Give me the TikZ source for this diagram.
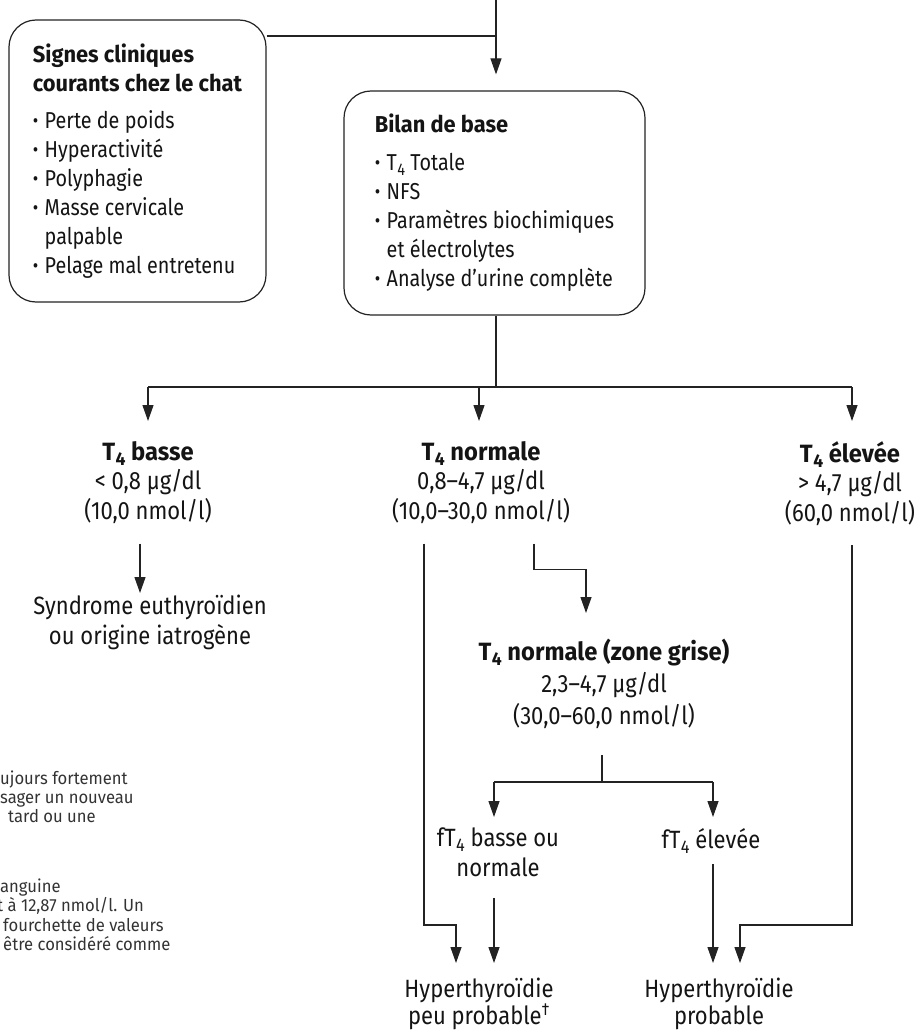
\documentclass[tikz,border=0pt]{standalone}
\usepackage{fontspec}
\setmainfont{Fira Sans}[FakeStretch=0.86]
\newfontfamily\bfam{Fira Sans}[FakeStretch=0.95]
\newfontfamily\lvlfont{Fira Sans}[FakeStretch=0.88]
\newfontfamily\notefont{Fira Sans}[FakeStretch=0.95]
\usetikzlibrary{arrows.meta,positioning}
\definecolor{fcLine}{RGB}{35,35,35}
\definecolor{fcText}{RGB}{20,20,20}
\newcommand{\Tq}{T\kern0.02em\raisebox{-0.2em}{\scalebox{0.74}{4}}}
\newcommand{\hd}[1]{{\bfam\bfseries #1}}
\newcommand{\bul}{\raisebox{0.04em}{\scalebox{0.85}{•}}\hspace{0.28em}}

\begin{document}
\begin{tikzpicture}[x=1pt,y=-1pt,
  every node/.style={font=\fontsize{23}{29}\selectfont,text=fcText},
  rbox/.style={draw=fcLine,line width=1.2pt,rounded corners=27pt,align=left,inner sep=0pt},
  lvl/.style={font=\lvlfont\fontsize{25}{29.5}\selectfont,align=center,inner xsep=0pt,inner ysep=20pt,anchor=north},
  res/.style={lvl,inner ysep=2pt},
  note/.style={font=\notefont\fontsize{17.5}{19.5}\selectfont,text=black!80,anchor=base west,inner sep=0pt},
  ln/.style={draw=fcLine,line width=1.2pt},
  arr/.style={ln,-{Triangle[width=11pt,length=16pt]}}
]
\useasboundingbox (0,0) rectangle (923,1032);

% boxes
\node[rbox,minimum width=257pt,minimum height=282pt] (signes) at (137.5,161)
  {\hd{Signes cliniques}\\\hd{courants chez le chat}\\[8pt]
   \bul Perte de poids\\\bul Hyperactivité\\\bul Polyphagie\\
   \bul Masse cervicale\\\phantom{\bul}palpable\\\bul Pelage mal entretenu};
\node[rbox,minimum width=301pt,minimum height=224pt] (bilan) at (494.5,203)
  {\hd{Bilan de base}\\[9pt]
   \bul\Tq\ Totale\\\bul NFS\\\bul Paramètres biochimiques\\
   \phantom{\bul}et électrolytes\\\bul Analyse d’urine complète};

% T4 levels
\node[lvl] (basse)  at (148,421) {\hd{\Tq\ basse}\\< 0,8 µg/dl\\(10,0 nmol/l)};
\node[lvl] (normale) at (481,421) {\hd{\Tq\ normale}\\0,8–4,7 µg/dl\\(10,0–30,0 nmol/l)};
\node[lvl] (elevee) at (850,421) {\hd{\Tq\ élevée}\\> 4,7 µg/dl\\(60,0 nmol/l)};
\node[res] (syndrome) at (150,593) {Syndrome euthyroïdien\\ou origine iatrogène};
\node[lvl,inner ysep=26pt,font=\lvlfont\fontsize{25}{32}\selectfont] (zone) at (604,613)
  {\hd{\Tq\ normale (zone grise)}\\2,3–4,7 µg/dl\\(30,0–60,0 nmol/l)};
\node[res,inner ysep=11pt] (fbasse) at (498,817) {f\Tq\ basse ou\\normale};
\node[res,inner ysep=11pt] (felevee) at (711,817) {f\Tq\ élevée};
\node[res,inner ysep=15pt,font=\lvlfont\fontsize{25}{27}\selectfont] (hpeu) at (479,963) {Hyperthyroïdie\\peu probable\textsuperscript{†}};
\node[res,inner ysep=15pt,font=\lvlfont\fontsize{25}{27}\selectfont] (hprob) at (719,963) {Hyperthyroïdie\\probable};

% footnotes (cut at the left edge)
\node[note] (n1) at (0,784) {ujours fortement};
\node[note] (n2) at (0,803) {sager un nouveau};
\node[note] (n3) at (8,822) {tard ou une};
\node[note] (n4) at (0,892) {anguine};
\node[note] (n5) at (-3,911) {t à 12,87 nmol/l. Un};
\node[note] (n6) at (3,931) {fourchette de valeurs};
\node[note] (n7) at (3,950) {être considéré comme};

% connectors
\coordinate (entry) at (496,0);
\coordinate (join) at (496,36);
\coordinate (split) at (0,387);
\coordinate (fork) at (0,782);
\coordinate (lowbar) at (0,925);

\draw[ln] (signes.east |- join) -- (join);
\draw[arr,shorten >=16pt] (entry) -- (entry |- bilan.north);
\draw[ln] (entry |- bilan.south) -- (entry |- split);
\draw[ln] (basse.north |- split) -- ([xshift=2pt]elevee.north |- split);
\draw[arr] (basse.north |- split) -- (basse.north);
\draw[arr] ([xshift=-2pt]normale.north |- split) -- ([xshift=-2pt]normale.north);
\draw[arr] ([xshift=2pt]elevee.north |- split) -- ([xshift=2pt]elevee.north);
\draw[arr] ([xshift=-8pt]basse.south) -- ([xshift=-10pt]syndrome.north);
\draw[arr] ([xshift=53pt]normale.south) -- ++(0,26) -| ([xshift=-18pt]zone.north);
\draw[ln] ([xshift=-2pt]zone.south) -- ([xshift=-2pt]zone.south |- fork);
\draw[ln] ([xshift=-4pt]fbasse.north |- fork) -- ([xshift=2pt]felevee.north |- fork);
\draw[arr] ([xshift=-4pt]fbasse.north |- fork) -- ([xshift=-4pt]fbasse.north);
\draw[arr] ([xshift=2pt]felevee.north |- fork) -- ([xshift=2pt]felevee.north);
\draw[arr] ([xshift=-57pt]normale.south) |- ([xshift=-23pt]hpeu.north |- lowbar) -- ([xshift=-23pt]hpeu.north);
\draw[arr] ([xshift=-4pt,yshift=-10pt]fbasse.south) -- ([xshift=15pt]hpeu.north);
\draw[arr] ([xshift=2pt]felevee.south) -- ([xshift=-6pt]hprob.north);
\draw[arr] ([xshift=2pt]elevee.south) |- ([xshift=21pt]hprob.north |- lowbar) -- ([xshift=21pt]hprob.north);
\end{tikzpicture}
\end{document}
